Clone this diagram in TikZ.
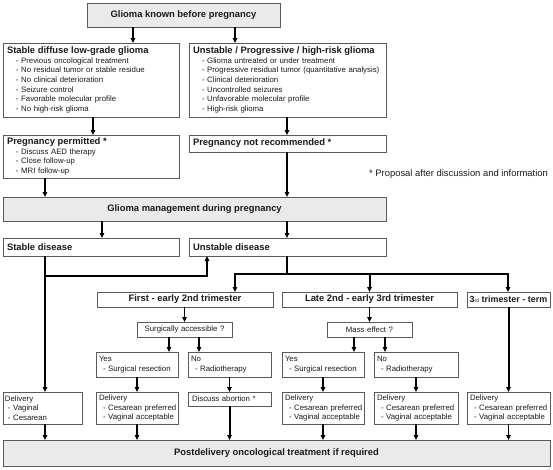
\documentclass[tikz,border=0pt]{standalone}
\usepackage{fontspec}
\setmainfont{Liberation Sans}
\usetikzlibrary{arrows.meta,calc}
\definecolor{bcol}{HTML}{5A5A5A}
\definecolor{gfill}{HTML}{EAEAEA}
\definecolor{tcol}{HTML}{1A1A1A}
\newcommand\bodyf{\fontsize{7.8}{9.6}\selectfont}
\newcommand\hdrf{\bfseries\fontsize{9.4}{11}\selectfont}
\newcommand\li[2][9pt]{\mbox{\hspace*{#1}- #2}}
\newcommand\mkbox[8]{%
 \pgfmathsetmacro\bw{#4-#2}\pgfmathsetmacro\bh{#5-#3}\pgfmathsetmacro\tw{#4-#2-2*#7}%
 \pgfmathsetmacro\cx{(#2+#4)/2}\pgfmathsetmacro\cy{(#3+#5)/2}%
 \node[#6, inner xsep=#7pt, minimum width=\bw pt, minimum height=\bh pt, text width=\tw pt] (#1) at (\cx,\cy) {#8};}
\begin{document}
\begin{tikzpicture}[x=1pt,y=-1pt,
  box/.style={draw=bcol, line width=0.8pt, inner ysep=0pt, outer sep=0pt, align=left, font=\bodyf, text=tcol},
  gbox/.style={box, fill=gfill, align=center},
  cbox/.style={box, align=center},
  arr/.style={line width=1.6pt, -{Triangle[length=5pt,width=4.5pt]}},
  tarr/.style={line width=2pt, -{Triangle[length=5pt,width=4.5pt]}},
  note/.style={font=\fontsize{9.4}{11}\selectfont, text=tcol, inner sep=0pt}]
\fill[white] (0,0) rectangle (553,469);
\useasboundingbox (0,0) rectangle (553,469);
% boxes
\mkbox{top}{87}{3}{280}{27}{gbox}{4}{\hdrf Glioma known before pregnancy}
\mkbox{st}{3}{43}{179}{117}{box}{4}{{\hdrf Stable diffuse low-grade glioma}\\
 \li{Previous oncological treatment}\\ \li{No residual tumor or stable residue}\\
 \li{No clinical deterioration}\\ \li{Seizure control}\\ \li{Favorable molecular profile}\\
 \li{No high-risk glioma}}
\mkbox{un}{189}{43}{386}{117}{box}{4}{{\hdrf Unstable / Progressive / high-risk glioma}\\
 \li{Glioma untreated or under treatment}\\ \li{Progressive residual tumor (quantitative analysis)}\\
 \li{Clinical deterioration}\\ \li{Uncontrolled seizures}\\ \li{Unfavorable molecular profile}\\
 \li{High-risk glioma}}
\mkbox{perm}{3}{135}{179}{178}{box}{4}{{\hdrf Pregnancy permitted *}\\
 \li{Discuss AED therapy}\\ \li{Close follow-up}\\ \li{MRI follow-up}}
\mkbox{notrec}{189}{135}{386}{152}{box}{4}{\hdrf Pregnancy not recommended *}
\node[note, anchor=west] (nt) at (369,174) {* Proposal after discussion and information};
\mkbox{mgmt}{3}{197}{386}{221}{gbox}{4}{\hdrf Glioma management during pregnancy}
\mkbox{sd}{3}{238}{179}{256}{box}{4}{\hdrf Stable disease}
\mkbox{ud}{189}{238}{386}{256}{box}{4}{\hdrf Unstable disease}
\mkbox{first}{97}{292}{273}{307}{cbox}{3}{\hdrf First - early 2nd trimester}
\mkbox{late}{282}{292}{457}{307}{cbox}{3}{\hdrf Late 2nd - early 3rd trimester}
\mkbox{third}{467}{292}{550}{307}{cbox}{1}{\mbox{\bfseries\fontsize{8.9}{10}\selectfont 3{\mdseries\fontsize{5}{5}\selectfont rd} trimester - term}}
\mkbox{sa}{137}{322}{232}{337}{cbox}{3}{Surgically accessible ?}
\mkbox{yes1}{96}{352}{178}{377}{box}{3}{Yes\\ \li[4pt]{Surgical resection}}
\mkbox{no1}{188}{352}{271}{377}{box}{3}{No\\ \li[4pt]{Radiotherapy}}
\mkbox{me}{327}{322}{412}{337}{cbox}{3}{Mass effect ?}
\mkbox{yes2}{282}{352}{364}{377}{box}{3}{Yes\\ \li[4pt]{Surgical resection}}
\mkbox{no2}{374}{352}{458}{377}{box}{3}{No\\ \li[4pt]{Radiotherapy}}
\mkbox{d0}{3}{392}{82}{424}{box}{2}{Delivery\\ \li[3pt]{Vaginal}\\ \li[3pt]{Cesarean}}
\mkbox{d1}{96}{392}{178}{424}{box}{3}{Delivery\\ \li[4pt]{Cesarean preferred}\\ \li[4pt]{Vaginal acceptable}}
\mkbox{abort}{188}{392}{271}{406}{box}{4}{Discuss abortion *}
\mkbox{d2}{282}{392}{364}{424}{box}{3}{Delivery\\ \li[4pt]{Cesarean preferred}\\ \li[4pt]{Vaginal acceptable}}
\mkbox{d3}{374}{392}{458}{424}{box}{3}{Delivery\\ \li[4pt]{Cesarean preferred}\\ \li[4pt]{Vaginal acceptable}}
\mkbox{d4}{467}{392}{550}{424}{box}{3}{Delivery\\ \li[4pt]{Cesarean preferred}\\ \li[4pt]{Vaginal acceptable}}
\mkbox{post}{3}{440}{550}{466}{gbox}{4}{\hdrf Postdelivery oncological treatment if required}
% helper x positions
\coordinate (A1) at (133,0);
\coordinate (A2) at (235,0);
\coordinate (A3) at (93,0);
\coordinate (A4) at (287,0);
\coordinate (A5) at (45,0);
\coordinate (A6) at (102,0);
\coordinate (A7) at (207,0);
\coordinate (A8) at (508,0);
\coordinate (A9) at (169,0);
\coordinate (A10) at (199,0);
\coordinate (A11) at (354,0);
\coordinate (A12) at (385,0);
\coordinate (B1) at (45,276);
\coordinate (H) at (287,274);
% connectors
\draw[arr] (top.south -| A1) -- (st.north -| A1);
\draw[arr] (top.south -| A2) -- (un.north -| A2);
\draw[arr] (st.south -| A3) -- (perm.north -| A3);
\draw[arr] (un.south -| A4) -- (notrec.north -| A4);
\draw[arr] (perm.south -| A5) -- (mgmt.north -| A5);
\draw[tarr] (notrec.south -| A4) -- (mgmt.north -| A4);
\draw[arr] (mgmt.south -| A6) -- (sd.north -| A6);
\draw[arr] (mgmt.south -| A4) -- (ud.north -| A4);
\draw[tarr] (sd.south -| A5) -- (d0.north -| A5);
\draw[tarr] (B1) -- (B1 -| A7) -- (ud.south -| A7);
\draw[tarr] (ud.south -| A4) -- (H) -- (H -| A2) -- (first.north -| A2);
\draw[tarr] (H) -- (H -| A8) -- (third.north -| A8);
\draw[tarr] (H -| late.north) -- (late.north);
\draw[arr] (first.south -| sa.north) -- (sa.north);
\draw[arr] (sa.south -| A9) -- (yes1.north -| A9);
\draw[arr] (sa.south -| A10) -- (no1.north -| A10);
\draw[arr] (yes1.south) -- (d1.north);
\draw[arr] (no1.south) -- (abort.north);
\draw[tarr] (abort.south) -- (post.north -| abort.south);
\draw[arr] (d0.south -| A5) -- (post.north -| A5);
\draw[arr] (d1.south) -- (post.north -| d1.south);
\draw[arr] (late.south -| me.north) -- (me.north);
\draw[arr] (me.south -| A11) -- (yes2.north -| A11);
\draw[arr] (me.south -| A12) -- (no2.north -| A12);
\draw[arr] (yes2.south) -- (d2.north);
\draw[arr] (no2.south) -- (d3.north);
\draw[tarr] (third.south) -- (d4.north);
\draw[arr] (d2.south) -- (post.north -| d2.south);
\draw[arr] (d3.south) -- (post.north -| d3.south);
\draw[arr] (d4.south) -- (post.north -| d4.south);
\end{tikzpicture}
\end{document}
